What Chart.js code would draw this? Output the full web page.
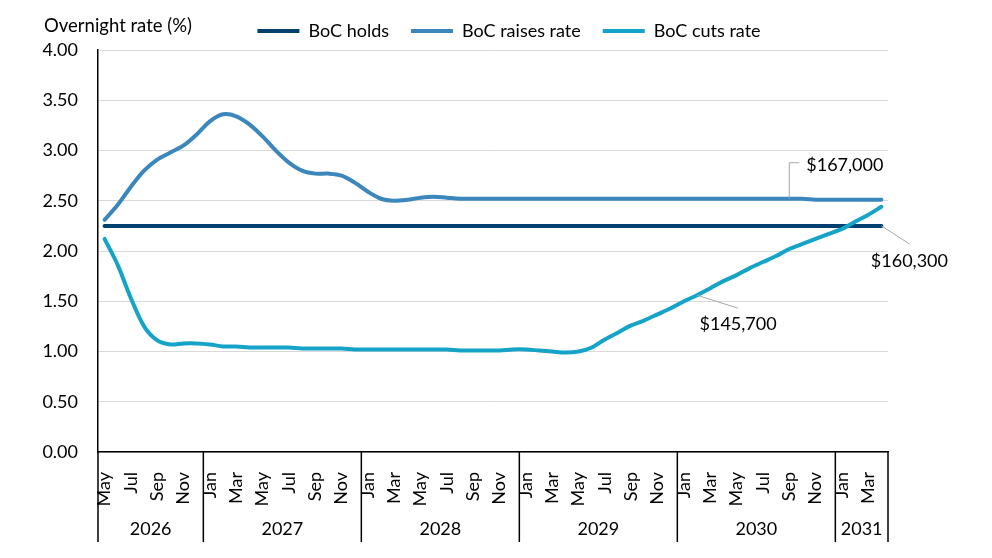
<!DOCTYPE html>
<html>
<head>
<meta charset="utf-8">
<script src="https://cdn.jsdelivr.net/npm/chart.js@4.4.0/dist/chart.umd.min.js"></script>
<style>
    html, body { margin: 0; padding: 0; background: #fff; }
    #wrap { width: 992px; height: 558px; }
</style>
</head>
<body>
<div id="wrap"><canvas id="rates"></canvas></div>
<script>
var months = ["May", "Jun", "Jul", "Aug", "Sep", "Oct", "Nov", "Dec",
    "Jan", "Feb", "Mar", "Apr", "May", "Jun", "Jul", "Aug", "Sep", "Oct", "Nov", "Dec",
    "Jan", "Feb", "Mar", "Apr", "May", "Jun", "Jul", "Aug", "Sep", "Oct", "Nov", "Dec",
    "Jan", "Feb", "Mar", "Apr", "May", "Jun", "Jul", "Aug", "Sep", "Oct", "Nov", "Dec",
    "Jan", "Feb", "Mar", "Apr", "May", "Jun", "Jul", "Aug", "Sep", "Oct", "Nov", "Dec",
    "Jan", "Feb", "Mar", "Apr"];

var monthYears = ["2026", "2026", "2026", "2026", "2026", "2026", "2026", "2026",
    "2027", "2027", "2027", "2027", "2027", "2027", "2027", "2027", "2027", "2027", "2027", "2027",
    "2028", "2028", "2028", "2028", "2028", "2028", "2028", "2028", "2028", "2028", "2028", "2028",
    "2029", "2029", "2029", "2029", "2029", "2029", "2029", "2029", "2029", "2029", "2029", "2029",
    "2030", "2030", "2030", "2030", "2030", "2030", "2030", "2030", "2030", "2030", "2030", "2030",
    "2031", "2031", "2031", "2031"];

var holds = [2.25, 2.25, 2.25, 2.25, 2.25, 2.25, 2.25, 2.25,
    2.25, 2.25, 2.25, 2.25, 2.25, 2.25, 2.25, 2.25, 2.25, 2.25, 2.25, 2.25,
    2.25, 2.25, 2.25, 2.25, 2.25, 2.25, 2.25, 2.25, 2.25, 2.25, 2.25, 2.25,
    2.25, 2.25, 2.25, 2.25, 2.25, 2.25, 2.25, 2.25, 2.25, 2.25, 2.25, 2.25,
    2.25, 2.25, 2.25, 2.25, 2.25, 2.25, 2.25, 2.25, 2.25, 2.25, 2.25, 2.25,
    2.25, 2.25, 2.25, 2.25];

var raises = [2.31, 2.46, 2.64, 2.80, 2.91, 2.98, 3.05, 3.16,
    3.29, 3.36, 3.34, 3.26, 3.14, 3.00, 2.88, 2.80, 2.77, 2.77, 2.75, 2.68,
    2.59, 2.52, 2.50, 2.51, 2.53, 2.54, 2.53, 2.52, 2.52, 2.52, 2.52, 2.52,
    2.52, 2.52, 2.52, 2.52, 2.52, 2.52, 2.52, 2.52, 2.52, 2.52, 2.52, 2.52,
    2.52, 2.52, 2.52, 2.52, 2.52, 2.52, 2.52, 2.52, 2.52, 2.52, 2.51, 2.51,
    2.51, 2.51, 2.51, 2.51];

var cuts = [2.12, 1.86, 1.53, 1.25, 1.11, 1.07, 1.08, 1.08,
    1.07, 1.05, 1.05, 1.04, 1.04, 1.04, 1.04, 1.03, 1.03, 1.03, 1.03, 1.02,
    1.02, 1.02, 1.02, 1.02, 1.02, 1.02, 1.02, 1.01, 1.01, 1.01, 1.01, 1.02,
    1.02, 1.01, 1.00, 0.99, 1.00, 1.04, 1.12, 1.19, 1.26, 1.31, 1.37, 1.43,
    1.50, 1.56, 1.63, 1.70, 1.76, 1.83, 1.89, 1.95, 2.02, 2.07, 2.12, 2.17,
    2.22, 2.29, 2.36, 2.44];

// callouts: which series / month they point at
var calloutText = ["$167,000", "$145,700", "$160,300"];
var calloutSeries = [1, 2, 0];
var calloutMonth = [52, 45, 59];

var FONT = "Lato, 'Open Sans', sans-serif";

var extras = {
    id: 'extras',
    afterDraw: function (chart) {
        var ctx = chart.ctx;
        var xs = chart.scales.x;
        var area = chart.chartArea;
        ctx.save();

        // y axis title, flat above the axis
        ctx.font = "18.5px " + FONT;
        ctx.fillStyle = "#000";
        ctx.textAlign = "left";
        ctx.textBaseline = "middle";
        ctx.fillText("Overnight rate (%)", 44, 26);

        // year row with separators
        ctx.font = "18px " + FONT;
        var half = (xs.getPixelForValue(1) - xs.getPixelForValue(0)) / 2;
        var bottom = area.bottom + 90;
        var edges = [area.left];
        var names = [monthYears[0]];
        for (var i = 1; i < monthYears.length; i++) {
            if (monthYears[i] !== monthYears[i - 1]) {
                edges.push(xs.getPixelForValue(i) - half);
                names.push(monthYears[i]);
            }
        }
        edges.push(area.right);
        ctx.strokeStyle = "#000";
        ctx.lineWidth = 1.5;
        edges.forEach(function (ex) {
            ctx.beginPath();
            ctx.moveTo(ex, area.bottom);
            ctx.lineTo(ex, bottom);
            ctx.stroke();
        });
        ctx.textAlign = "center";
        names.forEach(function (n, k) {
            ctx.fillText(n, (edges[k] + edges[k + 1]) / 2, area.bottom + 77);
        });

        // callouts with leader lines
        var leaders = [
            { path: [[0, -36], [10, -36]], tx: 17, ty: -34, align: "left" },
            { path: [[41, 13]], tx: 41, ty: 29, align: "center" },
            { path: [[28, 18]], tx: 28, ty: 35, align: "center" }
        ];
        calloutText.forEach(function (t, k) {
            var pt = chart.getDatasetMeta(calloutSeries[k]).data[calloutMonth[k]];
            var l = leaders[k];
            ctx.strokeStyle = "#a6a6a6";
            ctx.lineWidth = 1;
            ctx.beginPath();
            ctx.moveTo(pt.x, pt.y);
            l.path.forEach(function (p) { ctx.lineTo(pt.x + p[0], pt.y + p[1]); });
            ctx.stroke();
            ctx.textAlign = l.align;
            ctx.fillStyle = "#000";
            ctx.fillText(t, pt.x + l.tx, pt.y + l.ty);
        });
        ctx.restore();
    }
};

var ratesContext = document.getElementById("rates");
var ratesChart = new Chart(ratesContext, {
    type: 'line',
    data: {
        labels: months,
        datasets: [{
            label: "BoC holds",
            data: holds,
            borderColor: "#003f6e",
            borderWidth: 4,
            borderCapStyle: 'round',
            pointRadius: 0,
            order: 2
        }, {
            label: "BoC raises rate",
            data: raises,
            borderColor: "#3a86bd",
            borderWidth: 4,
            borderCapStyle: 'round',
            pointRadius: 0,
            tension: 0.32,
            order: 1
        }, {
            label: "BoC cuts rate",
            data: cuts,
            borderColor: "#16a3c8",
            borderWidth: 4,
            borderCapStyle: 'round',
            pointRadius: 0,
            tension: 0.32,
            order: 0
        }]
    },
    options: {
        responsive: true,
        maintainAspectRatio: false,
        animation: false,
        layout: { padding: { left: 26, right: 0, top: 0, bottom: 0 } },
        plugins: {
            tooltip: { enabled: false },
            legend: {
                display: true,
                position: "top",
                labels: {
                    usePointStyle: true,
                    pointStyle: 'line',
                    pointStyleWidth: 42,
                    padding: 22,
                    color: "#000",
                    font: { family: FONT, size: 18 },
                    sort: function (a, b) { return a.datasetIndex - b.datasetIndex; }
                }
            }
        },
        scales: {
            x: {
                offset: true,
                grid: { display: false, drawTicks: false },
                border: { display: true, color: "#000", width: 1.5 },
                ticks: {
                    autoSkip: false,
                    minRotation: 90,
                    maxRotation: 90,
                    padding: 20,
                    color: "#000",
                    font: { family: FONT, size: 18 },
                    callback: function (v, i) { return i % 2 === 0 ? months[i] : ""; }
                },
                afterFit: function (scale) { scale.height = 106; }
            },
            y: {
                min: 0,
                max: 4,
                grid: { color: "#d9d9d9", lineWidth: 1, drawTicks: false },
                border: { display: true, color: "#000", width: 1.5 },
                ticks: {
                    stepSize: 0.5,
                    padding: 20,
                    color: "#000",
                    font: { family: FONT, size: 18 },
                    callback: function (v) { return v.toFixed(2); }
                },
                afterFit: function (scale) { scale.width = 72; }
            },
            yRight: {
                position: 'right',
                min: 0,
                max: 4,
                grid: { display: false, drawTicks: false },
                border: { display: false },
                ticks: { display: false },
                afterFit: function (scale) { scale.width = 104; }
            }
        }
    },
    plugins: [extras]
});
</script>
</body>
</html>
